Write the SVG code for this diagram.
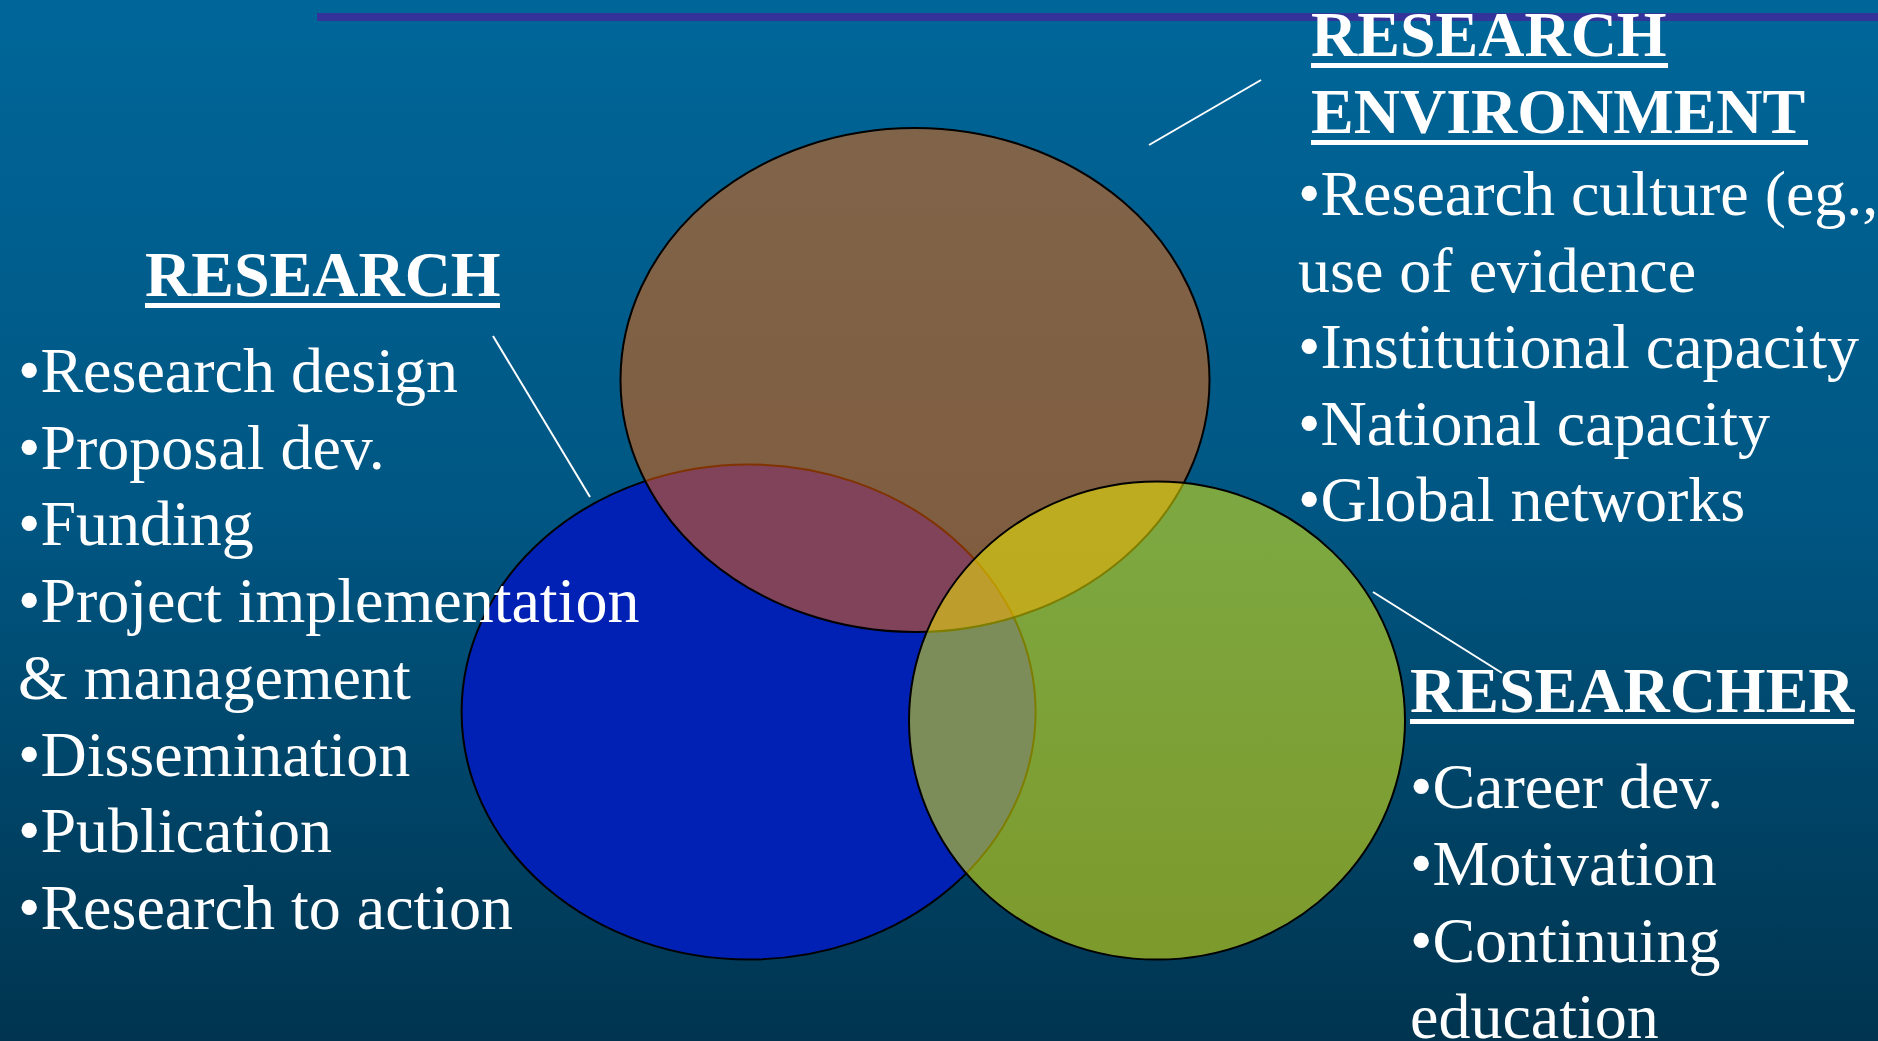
<svg xmlns="http://www.w3.org/2000/svg" width="1878" height="1041" viewBox="0 0 1878 1041">
  <defs>
    <linearGradient id="bg" x1="0" y1="0" x2="0" y2="1">
      <stop offset="0" stop-color="#006699"/>
      <stop offset="0.5" stop-color="#005682"/>
      <stop offset="1" stop-color="#00344F"/>
    </linearGradient>
    <style>
      .ring { stroke: #000; stroke-width: 2; }
      .head { font-family: "Liberation Serif", "Times New Roman", serif; font-size: 64px; font-weight: bold; fill: #fff; }
      .body { font-family: "Liberation Serif", "Times New Roman", serif; font-size: 64px; fill: #fff; }
      .uline { fill: #fff; }
      .leader { stroke: #fff; stroke-width: 2; fill: none; }
    </style>
  </defs>

  <!-- backdrop and top rule -->
  <rect x="0" y="0" width="1878" height="1041" fill="url(#bg)"/>
  <rect x="317" y="13" width="1561" height="8" fill="#333399"/>

  <!-- three overlapping areas; the upper two are half transparent -->
  <g id="venn">
    <ellipse id="circle-research" class="ring" cx="748.6" cy="712" rx="287" ry="247.5" fill="#0021B4"/>
    <ellipse id="circle-environment" class="ring" cx="915" cy="380" rx="294.5" ry="252" fill="#FF6600" fill-opacity="0.5"/>
    <ellipse id="circle-researcher" class="ring" cx="1157" cy="720.6" rx="248" ry="239" fill="#FAFA00" fill-opacity="0.5"/>
  </g>

  <!-- leader lines from labels to areas -->
  <g id="connectors">
    <line class="leader" x1="1261" y1="80" x2="1149" y2="145"/>
    <line class="leader" x1="493" y1="336" x2="590" y2="497"/>
    <line class="leader" x1="1373" y1="592" x2="1502" y2="673"/>
  </g>

  <g id="label-research">
    <text class="head" x="145" y="296">RESEARCH</text>
    <rect class="uline" x="145" y="303" width="355" height="5"/>
    <text class="body" x="18" y="392">•Research design</text>
    <text class="body" x="18" y="468.7">•Proposal dev.</text>
    <text class="body" x="18" y="545.4">•Funding</text>
    <text class="body" x="18" y="622.1">•Project implementation</text>
    <text class="body" x="18" y="698.8">&amp; management</text>
    <text class="body" x="18" y="775.5">•Dissemination</text>
    <text class="body" x="18" y="852.2">•Publication</text>
    <text class="body" x="18" y="928.9">•Research to action</text>
  </g>

  <g id="label-environment">
    <text class="head" x="1311" y="56">RESEARCH</text>
    <rect class="uline" x="1311" y="63" width="357" height="5"/>
    <text class="head" x="1311" y="133">ENVIRONMENT</text>
    <rect class="uline" x="1311" y="140" width="497" height="5"/>
    <text class="body" x="1298" y="215">•Research culture (eg.,</text>
    <text class="body" x="1298" y="291.6">use of evidence</text>
    <text class="body" x="1298" y="368.2">•Institutional capacity</text>
    <text class="body" x="1298" y="444.8">•National capacity</text>
    <text class="body" x="1298" y="521.4">•Global networks</text>
  </g>

  <g id="label-researcher">
    <text class="head" x="1410" y="712">RESEARCHER</text>
    <rect class="uline" x="1410" y="719" width="444" height="5"/>
    <text class="body" x="1410" y="808">•Career dev.</text>
    <text class="body" x="1410" y="885">•Motivation</text>
    <text class="body" x="1410" y="962">•Continuing</text>
    <text class="body" x="1410" y="1038">education</text>
  </g>
</svg>
